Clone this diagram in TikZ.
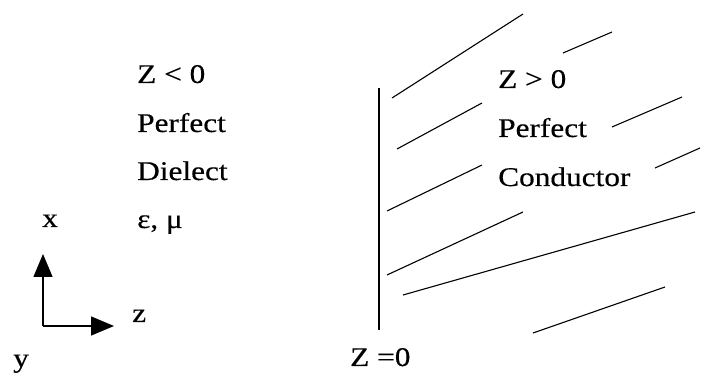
\documentclass[tikz,border=0pt]{standalone}
\usepackage{fontspec}
\setmainfont{Liberation Serif}[FakeStretch=1.16,FakeBold=0.4]
\usetikzlibrary{arrows.meta}

\begin{document}
\begin{tikzpicture}[
  x=1pt, y=-1pt,
  every node/.style={inner sep=0pt, anchor=base west, font=\fontsize{27}{32}\selectfont},
  hatch/.style={draw, line width=1.1pt},
  wall/.style={draw, line width=1.6pt},
  axis/.style={draw, line width=1.4pt, -{Triangle[length=23pt,width=19pt]}}
]
\useasboundingbox (0,0) rectangle (702,374);

% dielectric side
\node (zneg) at (137,83) {Z < 0};
\node (perfl) at (137,132) {Perfect};
\node (diel) at (137,180) {Dielect};
\node (epsmu) at (137,228) {ε, μ};

% conductor side
\node (zpos) at (498,88) {Z > 0};
\node (perfr) at (498,137) {Perfect};
\node (cond) at (498,186) {Conductor};

% boundary
\coordinate (wtop) at (379,88);
\coordinate (wbot) at (379,330);
\draw[wall] (wtop) -- (wbot);
\node (zzero) at (350,366) {Z =0};

% hatching
\foreach \xa/\ya/\xb/\yb in {392/98/523/14, 563/53/612/32, 397/149/482/103,
    612/127/682/97, 387/211/482/165, 655/168/700/148, 387/275/523/212,
    403/295/695/212, 533/333/665/287}
  \draw[hatch] (\xa,\ya) -- (\xb,\yb);

% axes
\coordinate (origin) at (43,326);
\coordinate (xtip) at (43,254);
\coordinate (ztip) at (114,326);
\draw[axis] (origin) -- (xtip);
\draw[axis] (origin) -- (ztip);
\node (xlab) at (42,227) {x};
\node (zlab) at (132,322) {z};
\node (ylab) at (13,367) {y};
\end{tikzpicture}
\end{document}
